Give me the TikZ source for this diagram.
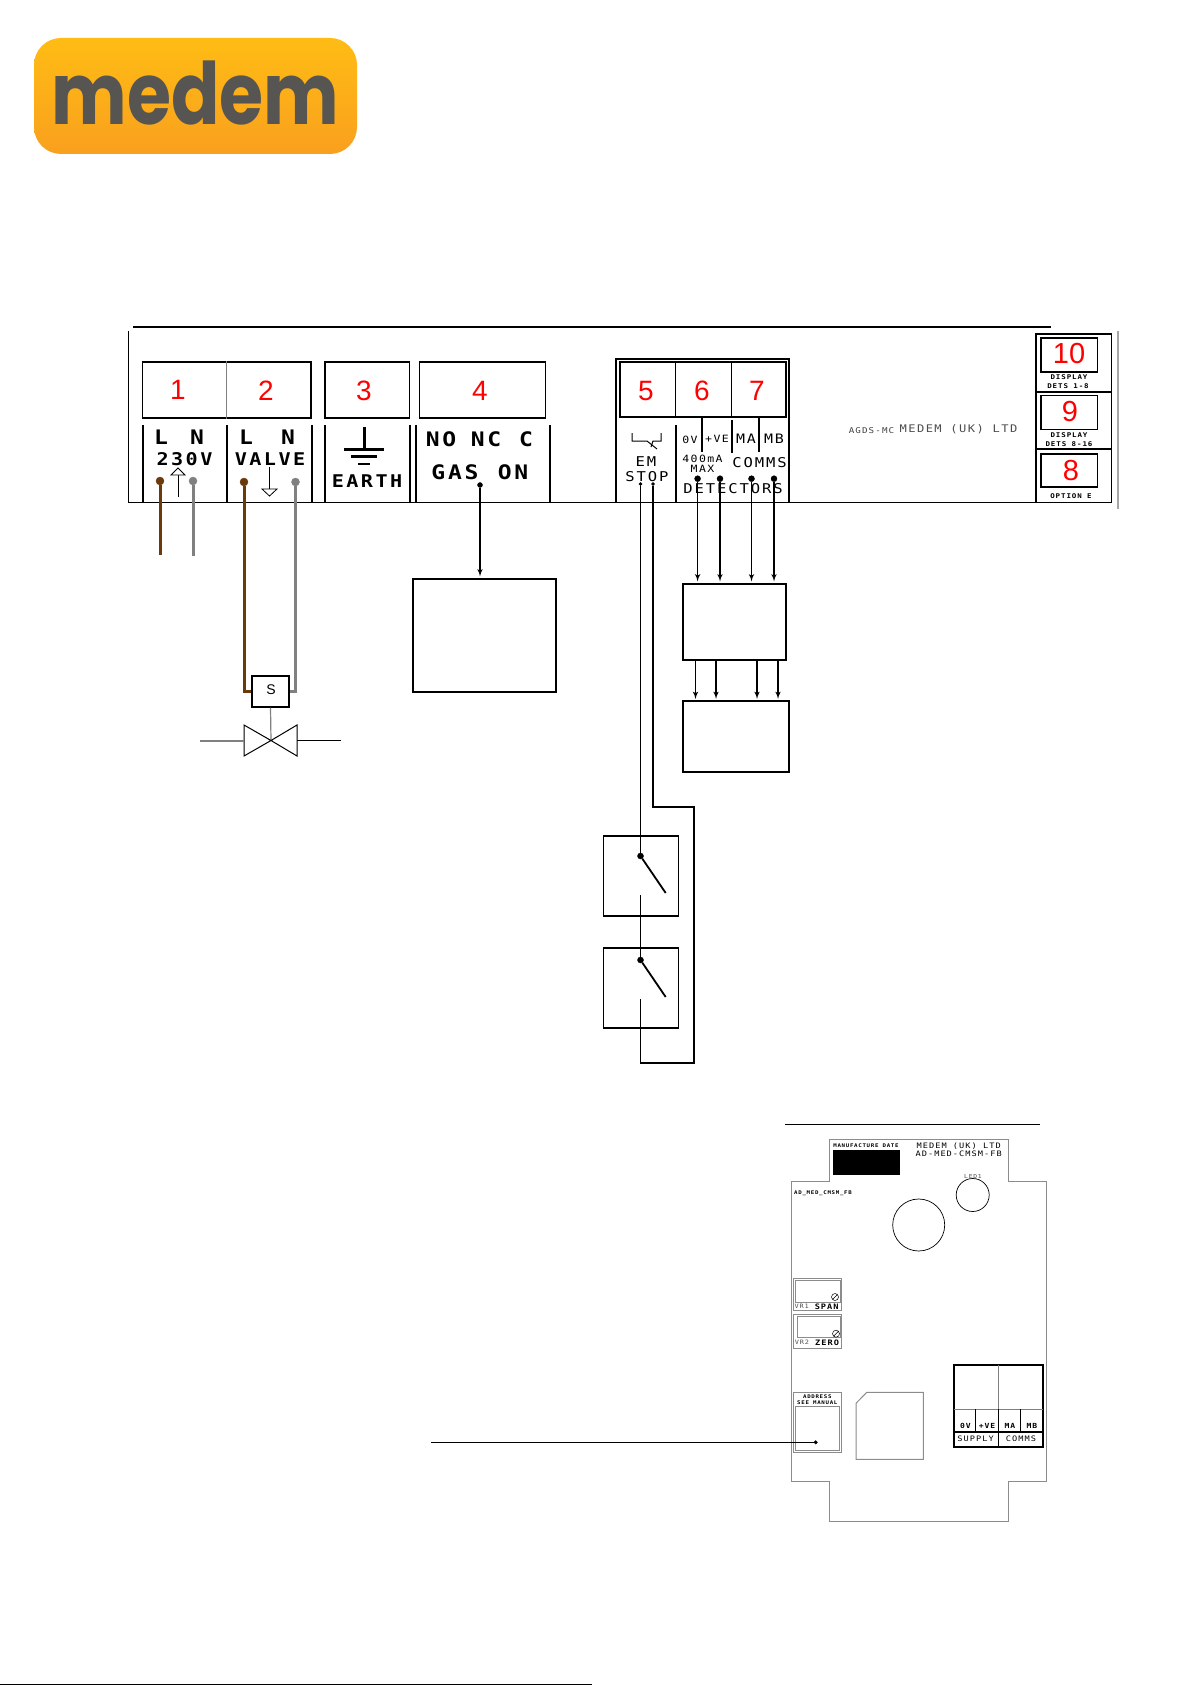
\documentclass[tikz,border=0pt]{standalone}
\usepackage{fontspec}
\usepackage{tikz}
\usetikzlibrary{shapes,arrows,positioning,calc}
\newfontfamily\plotfont[FakeStretch=1.15,LetterSpace=14]{DejaVu Sans Mono}
\newfontfamily\numfont{Liberation Sans}
\newfontfamily\logofont{Poppins}
\definecolor{wirebrown}{HTML}{6B3A0A}
\definecolor{wiregrey}{HTML}{808080}
\definecolor{boardgrey}{HTML}{8C8C8C}
\definecolor{logotop}{HTML}{FFBC14}
\definecolor{logobot}{HTML}{F9A01E}
\definecolor{logotext}{HTML}{575551}
\tikzset{
block/.style = {draw, fill=white, rectangle, inner sep=0pt, line width=1.1pt},
thin text/.style = {inner sep=0pt, font=\plotfont\fontsize{#1}{#1}\selectfont},
bold text/.style = {inner sep=0pt, font=\plotfont\bfseries\fontsize{#1}{#1}\selectfont},
num/.style = {inner sep=0pt, text=red, font=\numfont\fontsize{#1}{#1}\selectfont},
termdot/.style = {draw, fill=#1, circle, inner sep=0pt, minimum size=8pt},
fork/.style = {draw, fill=black, circle, inner sep=0pt, minimum size=5pt},
wire/.style = {line width=1.8pt, draw=black},
sig/.style = {line width=1.5pt, draw=black, shorten >=2pt},
colwire/.style = {line width=3pt, draw=#1},
tick/.style = {line width=1.5pt},
board/.style = {draw=boardgrey, line width=1pt},
thinline/.style = {line width=0.8pt}
}
\begin{document}
\begin{tikzpicture}[x=1pt, y=-1pt, >=latex']
    \useasboundingbox (0,0) rectangle (1191,1685);

    \node[block, draw=none, rounded corners=27pt, top color=logotop, bottom color=logobot, minimum width=323pt, minimum height=116pt] (logo) at (195.5,96) {};
    \node[anchor=base, inner sep=0pt, text=logotext, xscale=0.83, font=\logofont\bfseries\fontsize{86}{86}\selectfont] (logotxt) at (195.5,125) {medem};

    \draw[line width=1.6pt] (133,326.7) -- (1051,326.7);
    \draw[line width=1pt] (128.3,331) -- (128.3,502.3) -- (1111.5,502.3) -- (1111.5,334.3);
    \draw[line width=1.2pt, draw=gray!70] (1118,331) -- (1118,509);

    \node[block, minimum width=168.5pt, minimum height=56pt] (b12) at (226.75,390) {};
    \draw[draw=gray, line width=0.8pt] (b12.north) -- (b12.south);
    \node[block, minimum width=84.5pt, minimum height=56pt] (b3) at (367.25,390) {};
    \node[block, minimum width=126pt, minimum height=56pt] (b4) at (482.5,390) {};
    \node[num=28] (n1) at (178,390) {1};
    \node[num=28] (n2) at (266,391) {2};
    \node[num=28] (n3) at (364,391) {3};
    \node[num=28] (n4) at (480,391) {4};

    \foreach \x in {143,227,312,325,410,416,550}
        \draw[tick] (\x,425) -- (\x,503);

    \node[bold text=20] (tl1) at (161,437) {L};
    \node[bold text=20] (tn1) at (197,437) {N};
    \node[bold text=17.5] (t230) at (184.5,459.5) {230V};
    \node[bold text=20] (tl2) at (246,437) {L};
    \node[bold text=20] (tn2) at (288,437) {N};
    \node[bold text=17.5] (tvalve) at (270,459.5) {VALVE};
    \node[bold text=17.5] (tearth) at (367,481) {EARTH};
    \node[bold text=20] (tno) at (441,439) {NO};
    \node[bold text=20] (tnc) at (486,439) {NC};
    \node[bold text=20] (tc) at (526,439) {C};
    \node[bold text=20] (tgas) at (455,472) {GAS};
    \node[bold text=20] (ton) at (513,472) {ON};

    \draw[thinline] (178,497) -- (178,475);
    \draw[thinline, fill=white] (171,475) -- (178,468) -- (185,475) -- cycle;
    \draw[thinline] (269,467) -- (269,489);
    \draw[thinline, fill=white] (262,489) -- (277,489) -- (269.5,496) -- cycle;

    \draw[line width=2.4pt] (364.5,427) -- (364.5,449);
    \draw[line width=2.8pt] (344,449.5) -- (384,449.5);
    \draw[line width=2.6pt] (351,456.5) -- (377,456.5);
    \draw[line width=2.6pt] (358,464) -- (370,464);

    \node[termdot=wirebrown, draw=wirebrown] (d1l) at (160,481) {};
    \node[termdot=wiregrey, draw=wiregrey] (d1n) at (193,481) {};
    \coordinate (e1l) at (160,555);
    \coordinate (e1n) at (193,556);
    \draw[colwire=wirebrown] (d1l) -- (e1l);
    \draw[colwire=wiregrey] (d1n) -- (e1n);

    \node[block, minimum width=37pt, minimum height=31pt] (sol) at (270.5,691.5) {};
    \node[inner sep=0pt, font=\numfont\fontsize{14}{14}\selectfont] (sol text) at (271,690) {S};
    \node[termdot=wirebrown, draw=wirebrown] (d2l) at (244,482) {};
    \node[termdot=wiregrey, draw=wiregrey] (d2n) at (295.5,482) {};
    \draw[colwire=wirebrown] (d2l) -- (d2l |- sol.west) -- (sol.west);
    \draw[colwire=wiregrey] (d2n) -- (d2n |- sol.east) -- (sol.east);

    \coordinate (vmid) at (271,740.5);
    \draw[line width=1.2pt, draw=gray] (sol.south) -- (vmid);
    \draw[line width=1pt] (vmid) -- (244,725) -- (244,756) -- cycle;
    \draw[line width=1pt] (vmid) -- (297,725) -- (297,756) -- cycle;
    \draw[draw=gray, line width=1.1pt] (200,741) -- (244,741);
    \draw[thinline] (297,740) -- (341,740);

    \node[block, minimum width=143pt, minimum height=113pt] (alarm) at (484.5,635.5) {};
    \node[fork] (d4) at (480,485) {};
    \draw[sig,->] (d4) -- (d4 |- alarm.north);

    \draw[line width=1.8pt] (616,503) -- (616,359) -- (789,359) -- (789,503);
    \node[block, minimum width=166pt, minimum height=55pt] (b567) at (703,389.5) {};
    \draw[thinline] (675,362) -- (675,417);
    \draw[thinline] (731,362) -- (731,417);
    \node[num=28] (n5) at (646,391) {5};
    \node[num=28] (n6) at (702,391) {6};
    \node[num=28] (n7) at (757,391) {7};
    \draw[tick] (676,425) -- (676,503);
    \draw[tick] (702,418) -- (702,452);
    \draw[tick] (732,420) -- (732,453);
    \draw[tick] (759,418) -- (759,452);

    \draw[line width=1pt] (632,433) -- (632,441) -- (647,441) -- (657,449);
    \draw[line width=1pt] (661,433) -- (661,441) -- (653,441) -- (651,447);
    \node[thin text=13.5] (tem) at (646,462) {EM};
    \node[thin text=13.5] (tstop) at (647,477) {STOP};
    \node[thin text=10] (t0v) at (690,440) {0V};
    \node[thin text=10] (tve) at (717,439) {+VE};
    \node[thin text=13] (tma) at (746,439) {MA};
    \node[thin text=13] (tmb) at (774,439) {MB};
    \node[thin text=10] (t400) at (702.5,459) {400mA};
    \node[thin text=10] (tmax) at (702.5,469) {MAX};
    \node[thin text=13.5] (tcomms) at (759.5,463) {COMMS};
    \node[thin text=13.5] (tdet) at (733,489) {DETECTORS};

    \node[block, minimum width=103pt, minimum height=76pt] (ctl) at (734.5,622) {};
    \node[block, minimum width=106pt, minimum height=71pt] (det) at (736,736.5) {};
    \node[fork, minimum size=6pt] (d6a) at (697.6,478.7) {};
    \node[fork, minimum size=6pt] (d6b) at (720,478.7) {};
    \node[fork, minimum size=6pt] (d7a) at (751.5,478.7) {};
    \node[fork, minimum size=6pt] (d7b) at (774,478.7) {};
    \foreach \d in {d6a,d6b,d7a,d7b}
        \draw[sig,->] (\d) -- (\d |- ctl.north);
    \foreach \x in {695.5,716,757,778}
        \draw[sig,->] (\x,660) -- (\x,701);

    \node[block, minimum width=75.5pt, minimum height=80pt] (sw1) at (641,876) {};
    \node[block, minimum width=75.5pt, minimum height=80pt] (sw2) at (641,988) {};
    \node[fork, minimum size=3pt] (d5a) at (640.5,484) {};
    \node[fork, minimum size=3pt] (d5b) at (653,484) {};
    \node[fork, minimum size=6pt] (p1) at (640.5,856) {};
    \node[fork, minimum size=6pt] (p2) at (640.5,960) {};
    \coordinate (b1) at (665.7,893);
    \coordinate (b2) at (665.7,997);
    \coordinate (c1) at (640.5,895);
    \coordinate (c2) at (640.5,999);
    \draw[wire] (d5a) -- (p1);
    \draw[wire] (p1) -- (b1);
    \draw[wire] (c1) -- (p2);
    \draw[wire] (p2) -- (b2);
    \draw[wire] (d5b) -- (653,806.7) -- (694,806.7) -- (694,1062.7) -- (640.5,1062.7) -- (c2);

    \draw[line width=1.8pt] (1036,503) -- (1036,334.3) -- (1111.5,334.3);
    \draw[line width=1.8pt] (1036,391.7) -- (1111.5,391.7);
    \draw[line width=1.8pt] (1036,449) -- (1111.5,449);
    \node[block, minimum width=56.6pt, minimum height=34pt] (b10) at (1069.3,355) {};
    \node[block, minimum width=56.6pt, minimum height=33.5pt] (b9) at (1069.3,412.5) {};
    \node[block, minimum width=56.6pt, minimum height=33pt] (b8) at (1069.3,470.5) {};
    \node[num=29] (n10) at (1069,354) {10};
    \node[num=29] (n9) at (1070,412) {9};
    \node[num=29] (n8) at (1071,471) {8};
    \node[bold text=6.5] (t10a) at (1069,377.5) {DISPLAY};
    \node[bold text=6.5] (t10b) at (1068,386) {DETS 1-8};
    \node[bold text=6.5] (t9a) at (1069,435) {DISPLAY};
    \node[bold text=6.5] (t9b) at (1069,444) {DETS 8-16};
    \node[bold text=6.5] (t8a) at (1071,496) {OPTION E};

    \node[thin text=8, text=black!75] (tagds) at (871.5,431) {AGDS-MC};
    \node[thin text=10.5, text=black!70] (tmedem) at (958.5,429) {MEDEM (UK) LTD};

    \draw[line width=1pt] (785,1124.3) -- (1040,1124.3);
    \draw[board] (829.5,1181) -- (829.5,1139) -- (1008.7,1139) -- (1008.7,1181) -- (1046.7,1181)
        -- (1046.7,1481.7) -- (1008.7,1481.7) -- (1008.7,1521.7) -- (829.5,1521.7) -- (829.5,1481.7)
        -- (791,1481.7) -- (791,1181) -- cycle;
    \fill (832.7,1150) rectangle (900,1174.7);
    \node[bold text=5] (tmfg) at (866,1146) {MANUFACTURE DATE};
    \node[thin text=7.5] (tb1) at (958.7,1146) {MEDEM (UK) LTD};
    \node[thin text=7.5] (tb2) at (958.7,1154) {AD-MED-CMSM-FB};
    \node[bold text=5] (tb3) at (823,1193.5) {AD\_MED\_CMSM\_FB};
    \node[thin text=5.5, text=black!70] (tled) at (973,1176) {LED1};
    \draw[line width=0.7pt] (972.7,1195) circle (16.5);
    \draw[line width=0.7pt] (918.7,1225) circle (26);

    \draw[board] (793.3,1278.7) rectangle (841,1310.7);
    \draw[board] (795,1280) rectangle (840,1302);
    \draw[line width=0.5pt] (835,1297) circle (3.5) (832.5,1299.5) -- (837.5,1294.5);
    \node[thin text=6, text=black!70] (tvr1) at (801.7,1306) {VR1};
    \node[bold text=7.5] (tspan) at (826.7,1306.5) {SPAN};
    \draw[board] (793.3,1314.7) rectangle (841,1348.7);
    \draw[board] (797,1316) rectangle (840,1337);
    \draw[line width=0.5pt] (836,1333.7) circle (3.5) (833.5,1336.2) -- (838.5,1331.2);
    \node[thin text=6, text=black!70] (tvr2) at (802,1342) {VR2};
    \node[bold text=7.5] (tzero) at (827,1343) {ZERO};

    \draw[board] (793.3,1392.7) rectangle (841,1452.3);
    \draw[board] (795.3,1406) rectangle (839.7,1450);
    \node[bold text=5] (taddr) at (817.3,1397) {ADDRESS};
    \node[bold text=5] (tsee) at (817.3,1402.7) {SEE MANUAL};
    \draw[board] (866.7,1392.3) -- (923.3,1392.3) -- (923.3,1459.3) -- (856,1459.3) -- (856,1403.3) -- cycle;

    \coordinate (lead) at (431,1442.3);
    \node[fork, minimum size=3.5pt] (addr dot) at (815.7,1442.3) {};
    \draw[line width=1pt] (lead) -- (addr dot);

    \draw[line width=1.8pt] (954.3,1365) rectangle (1043.3,1446.7);
    \draw[draw=gray, line width=0.7pt] (998.7,1365) -- (998.7,1409);
    \draw[draw=gray, line width=0.7pt] (954.3,1409) -- (1043.3,1409);
    \foreach \x in {975.7,998.7,1020.7}
        \draw[line width=1pt] (\x,1409) -- (\x,1432);
    \draw[line width=1.4pt] (954.3,1432) -- (1043.3,1432);
    \draw[line width=1pt] (998.7,1432) -- (998.7,1446.7);
    \node[bold text=7] (tb0v) at (965.5,1426) {0V};
    \node[bold text=7] (tbve) at (987,1426) {+VE};
    \node[bold text=7] (tbma) at (1010,1426) {MA};
    \node[bold text=7] (tbmb) at (1032,1426) {MB};
    \node[thin text=7.5] (tsup) at (975.5,1439) {SUPPLY};
    \node[thin text=7.5] (tcom) at (1021,1439) {COMMS};

    \draw[line width=1.4pt] (0,1684.2) -- (591.7,1684.2);
\end{tikzpicture}
\end{document}
